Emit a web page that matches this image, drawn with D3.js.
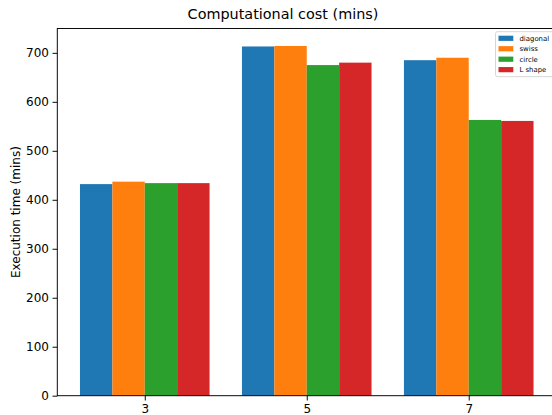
<!DOCTYPE html>
<html><head><meta charset="utf-8">
<script src="https://cdn.jsdelivr.net/npm/d3@7"></script>
<style>
html,body{margin:0;padding:0;background:#fff;}
svg{display:block;font-family:"DejaVu Sans",sans-serif;}
</style></head>
<body><svg id="c" width="552" height="415"></svg>
<script>
const categories = ["3", "5", "7"];
const seriesNames = ["diagonal", "swiss", "circle", "L shape"];
const diagonal = [432, 713, 685];
const swiss = [437, 714, 690];
const circle = [434, 675, 563];
const lshape = [434, 680, 561];
const yTicks = [0, 100, 200, 300, 400, 500, 600, 700];
const colors = ["#1f77b4", "#ff7f0e", "#2ca02c", "#d62728"];
const seriesValues = [diagonal, swiss, circle, lshape];

const svg = d3.select("#c");
const L = 57.3, R = 556.2, T = 28.5, B = 395.7;
const barW = 0.2;
const x = d3.scaleLinear().domain([-0.54, 2.54]).range([L, R]);
const ymax = d3.max(seriesValues.flat()) * 1.05;
const y = d3.scaleLinear().domain([0, ymax]).range([B, T]);

// bars
seriesValues.forEach((vals, s) => {
  svg.append("g").selectAll("rect").data(vals).join("rect")
    .attr("x", (d, i) => x(i + (s - 1.5) * barW - barW / 2))
    .attr("width", x(barW) - x(0))
    .attr("y", d => y(d))
    .attr("height", d => y(0) - y(d))
    .attr("fill", colors[s]);
});

// axes
const fs = "12px";
const yAxis = svg.append("g").attr("transform", `translate(${L},0)`)
  .call(d3.axisLeft(y).tickValues(yTicks).tickSize(4.8).tickPadding(3.5));
const xAxis = svg.append("g").attr("transform", `translate(0,${B})`)
  .call(d3.axisBottom(x).tickValues([0, 1, 2]).tickFormat(i => categories[i]).tickSize(4.8).tickPadding(3.5));
[yAxis, xAxis].forEach(a => {
  a.selectAll("text").attr("font-family", "DejaVu Sans").attr("font-size", fs).attr("fill", "#000");
  a.selectAll("line").attr("stroke", "#000").attr("stroke-width", 0.96);
  a.select(".domain").remove();
});

// spines
svg.append("rect").attr("x", L).attr("y", T).attr("width", R - L).attr("height", B - T)
  .attr("fill", "none").attr("stroke", "#000").attr("stroke-width", 0.96);

// title
svg.append("text").attr("x", 283).attr("y", 19).attr("text-anchor", "middle")
  .attr("font-size", "14.4px").attr("fill", "#000").text("Computational cost (mins)");

// y label
svg.append("text").attr("transform", `translate(19.5,${(T + B) / 2}) rotate(-90)`)
  .attr("text-anchor", "middle").attr("font-size", fs).attr("fill", "#000")
  .text("Execution time (mins)");

// legend
const lg = svg.append("g");
lg.append("rect").attr("x", 495.5).attr("y", 31.7).attr("width", 58).attr("height", 45)
  .attr("rx", 2).attr("fill", "#fff").attr("fill-opacity", 0.8)
  .attr("stroke", "#cccccc").attr("stroke-width", 0.8);
seriesNames.forEach((n, i) => {
  const cy = 38.3 + i * 10.45;
  lg.append("rect").attr("x", 498.5).attr("y", cy - 2.6).attr("width", 14.8).attr("height", 5.2).attr("fill", colors[i]);
  lg.append("text").attr("x", 519.5).attr("y", cy + 2.4).attr("font-size", "6.9px").attr("fill", "#000").text(n);
});
</script></body></html>
